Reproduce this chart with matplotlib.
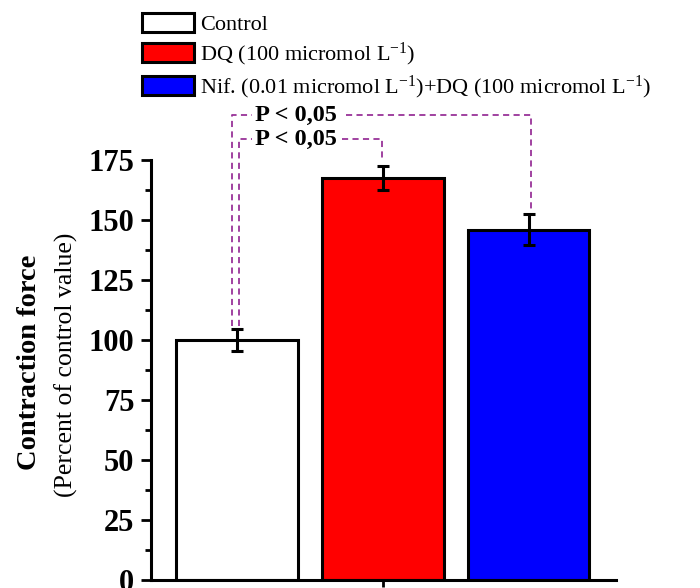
import matplotlib
matplotlib.use("Agg")
import matplotlib.pyplot as plt
from matplotlib.patches import Patch
from matplotlib.ticker import MultipleLocator

plt.rcParams['font.family'] = ['Liberation Serif', 'DejaVu Serif']
plt.rcParams['mathtext.fontset'] = 'custom'
plt.rcParams['mathtext.rm'] = 'Liberation Serif'
plt.rcParams['mathtext.it'] = 'Liberation Serif:italic'
plt.rcParams['mathtext.bf'] = 'Liberation Serif:bold'

# Data
groups = ["Control", "DQ (100 micromol L$^{\\mathregular{-1}}$)",
          "Nif. (0.01 micromol L$^{\\mathregular{-1}}$)+DQ (100 micromol L$^{\\mathregular{-1}}$)"]
values = [100.0, 167.5, 146.0]
errors = [4.5, 5.0, 6.5]
colors = ["white", "#ff0000", "#0000ff"]
y_ticks = [0, 25, 50, 75, 100, 125, 150, 175]
p_labels = ["P < 0,05", "P < 0,05"]

W, H = 700, 588
fig = plt.figure(figsize=(W / 100, H / 100), dpi=100)
ax = fig.add_axes([151 / W, 1 - 580 / H, (616 - 151) / W, (580 - 160) / H])

x = list(range(len(values)))
ax.bar(x, values, width=0.835, color=colors, edgecolor="black", linewidth=2.2, zorder=2)
ax.errorbar(x, values, yerr=errors, fmt="none", ecolor="black", elinewidth=2.2,
            capsize=4.5, capthick=2.2, zorder=3)

ax.set_xlim(-0.59, 2.6)
ax.set_ylim(0, 175)
ax.set_yticks(y_ticks)
ax.yaxis.set_minor_locator(MultipleLocator(12.5))
ax.set_xticks([1])
ax.set_xticklabels([""])
for s in ["top", "right"]:
    ax.spines[s].set_visible(False)
for s in ["left", "bottom"]:
    ax.spines[s].set_linewidth(2.2)
ax.tick_params(axis="y", which="major", direction="out", length=7, width=2.0,
               labelsize=22, pad=5)
ax.tick_params(axis="y", which="minor", direction="out", length=4.5, width=2.0)
ax.tick_params(axis="x", which="major", direction="out", length=5, width=2.0)
for lab in ax.get_yticklabels():
    lab.set_fontweight("bold")

# Y label (two lines)
fig.text(30 / W, 1 - 362 / H, "Contraction force", rotation=90, ha="center", va="center",
         fontsize=20.5, fontweight="bold")
fig.text(66 / W, 1 - 365 / H, "(Percent of control value)", rotation=90, ha="center",
         va="center", fontsize=18.5)

# Significance brackets
pc = "#993399"
dash = (3.4, 2.4)
lw = 1.3
def dline(xs, ys):
    ln, = ax.plot(xs, ys, color=pc, lw=lw, clip_on=False, zorder=4)
    ln.set_dashes(dash)

# upper bracket: Control vs Nif+DQ
dline([-0.034, -0.034, 0.10], [106, 193.75, 193.75])
dline([0.75, 2.02, 2.02], [193.75, 193.75, 153.5])
ax.text(0.123, 193.75, p_labels[0], ha="left", va="center", fontsize=17.5,
        fontweight="bold", clip_on=False)
# lower bracket: Control vs DQ
dline([0.014, 0.014, 0.10], [106, 183.75, 183.75])
dline([0.72, 0.993, 0.993], [183.75, 183.75, 175.5])
ax.text(0.123, 183.75, p_labels[1], ha="left", va="center", fontsize=17.5,
        fontweight="bold", clip_on=False)

# Legend
handles = [Patch(facecolor=c, edgecolor="black", linewidth=2.2) for c in colors]
fig.legend(handles, groups, loc="upper left", bbox_to_anchor=(142 / W, 1 - 13 / H),
           frameon=False, fontsize=16, handlelength=2.35, handleheight=0.95,
           handletextpad=0.25, labelspacing=0.25, borderpad=0, borderaxespad=0)

fig.savefig("out.png", dpi=100)
